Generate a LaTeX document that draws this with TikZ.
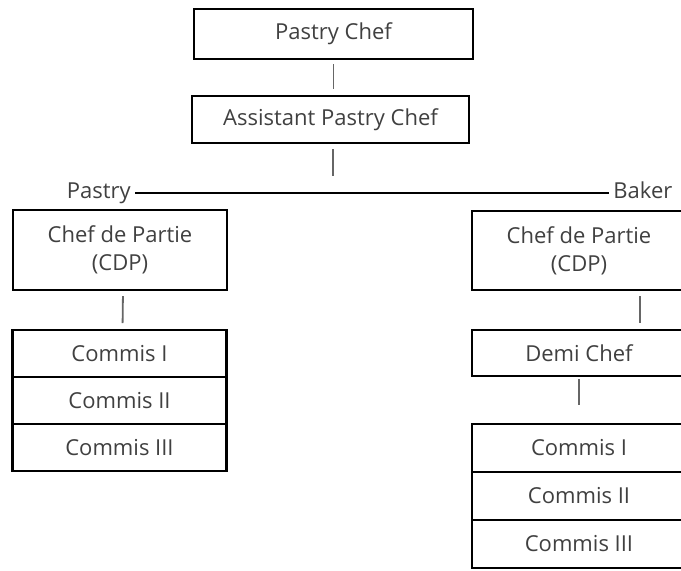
\documentclass[tikz,border=0pt]{standalone}
\usepackage{fontspec}
\setmainfont{Open Sans}
\usetikzlibrary{positioning}
\begin{document}
\begin{tikzpicture}[x=0.5pt,y=-0.5pt,
  box/.style={draw,line width=1.2pt,text=black!75,align=center,inner sep=0pt,minimum width=107pt,font=\fontsize{11}{14}\selectfont},
  row/.style={box,outer sep=0pt},
  lbl/.style={text=black!75,inner sep=2pt,font=\fontsize{11}{14}\selectfont},
  link/.style={draw=black!60,line width=0.9pt}]
\useasboundingbox (0,0) rectangle (681,570);
\node[box,minimum width=139.5pt,minimum height=25pt] (chef) at (333.5,34) {Pastry Chef};
\node[box,minimum width=138.5pt,minimum height=23.5pt] (asst) at (330.5,119.5) {Assistant Pastry Chef};
\coordinate (split) at (333,193);
\node[lbl,anchor=base east] (pastry) at (135,198) {Pastry};
\node[lbl,anchor=base west] (baker) at (609,198) {Baker};
\node[box,minimum height=40pt] (cdpL) at (120,250) {Chef de Partie\\(CDP)};
\node[row,minimum height=23.5pt] (comL1) at (119.5,353.5) {Commis I};
\node[row,minimum height=23.5pt,below=0pt of comL1] (comL2) {Commis II};
\node[row,minimum height=23.5pt,below=0pt of comL2] (comL3) {Commis III};
\node[box,minimum height=39.5pt] (cdpR) at (579,250.5) {Chef de Partie\\(CDP)};
\node[box,minimum height=23pt] (demi) at (579,353) {Demi Chef};
\node[row,minimum height=24pt] (comR1) at (579,448) {Commis I};
\node[row,minimum height=24pt,below=0pt of comR1] (comR2) {Commis II};
\node[row,minimum height=24pt,below=0pt of comR2] (comR3) {Commis III};
\draw[link,shorten <=2pt,shorten >=3pt] (chef.south) -- (asst.north -| chef.south);
\draw[link,shorten <=2.5pt,shorten >=8.5pt] (asst.south -| split) -- (split);
\draw[line width=1pt] (pastry.east |- split) -- (baker.west |- split);
\draw[link,shorten <=2.5pt,shorten >=3.5pt] ([xshift=1.5pt]cdpL.south) -- ([xshift=1.5pt]comL1.north);
\draw[link,shorten <=2.5pt,shorten >=3pt] ([xshift=30.5pt]cdpR.south) -- ([xshift=30.5pt]demi.north);
\draw[link,shorten <=1pt,shorten >=9.5pt] (demi.south) -- (comR1.north);
\end{tikzpicture}
\end{document}
